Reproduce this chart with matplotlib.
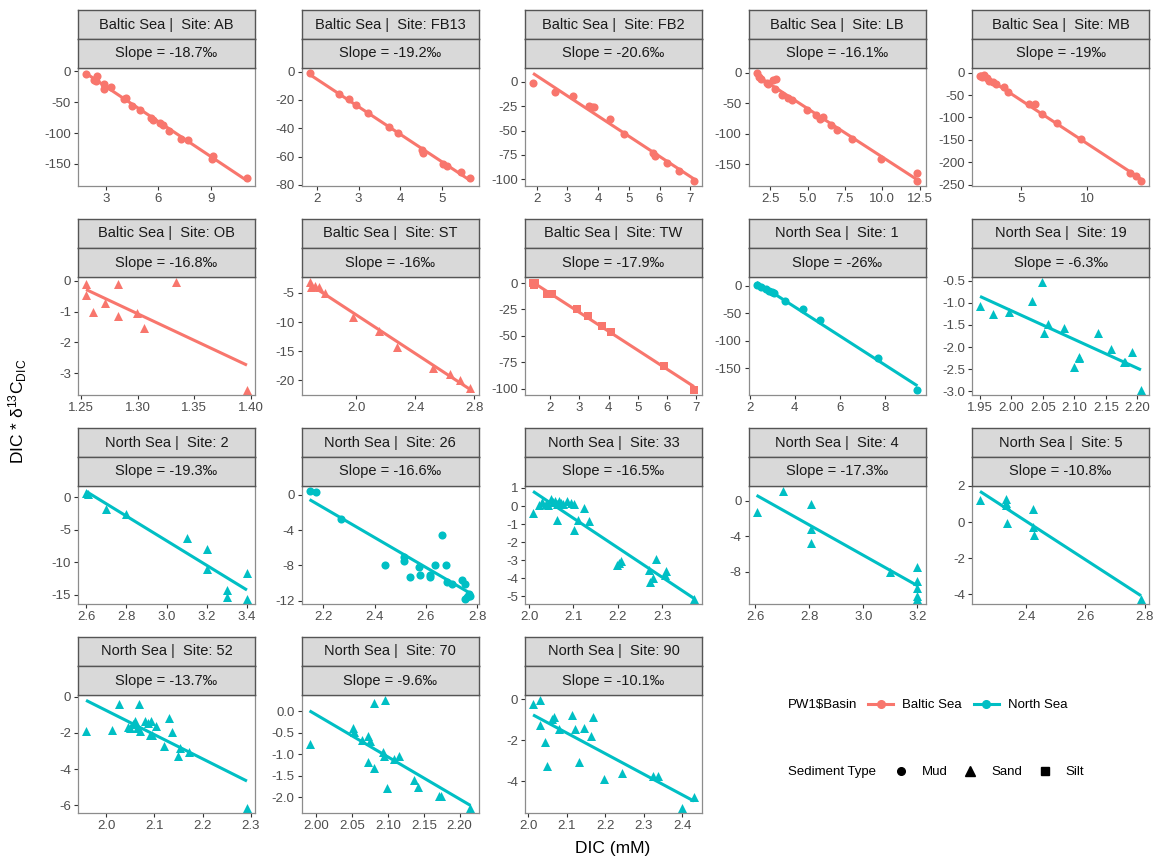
import numpy as np
import matplotlib
matplotlib.use("Agg")
from matplotlib import pyplot as plt
from matplotlib.lines import Line2D

plt.rcParams['font.family'] = ['Liberation Sans', 'DejaVu Sans']
plt.rcParams['axes.unicode_minus'] = False
plt.rcParams['mathtext.fontset'] = 'custom'
plt.rcParams['mathtext.rm'] = 'Liberation Sans'
plt.rcParams['mathtext.it'] = 'Liberation Sans:italic'

# data (DIC in mM, DIC * d13C)
ab_dic = [1.85, 2.33, 2.46, 2.42, 2.88, 2.90, 3.27, 4.04, 4.15, 4.48, 4.96, 5.60, 5.70, 6.10, 6.27, 6.60, 7.27, 7.71, 9.06, 9.15, 11.08]
ab_val = [-3.8, -13.4, -8.0, -16.0, -20.0, -28.0, -26.0, -45.0, -43.0, -56.0, -62.0, -76.0, -79.0, -83.0, -87.0, -97.0, -109.0, -111.0, -142.0, -138.0, -173.0]
fb13_dic = [1.82, 2.53, 2.77, 2.93, 3.23, 3.73, 3.94, 4.52, 4.54, 5.03, 5.13, 5.47, 5.69]
fb13_val = [-1.2, -16.0, -19.5, -23.5, -29.0, -38.8, -43.0, -55.3, -57.6, -65.0, -66.6, -70.6, -75.3]
fb2_dic = [1.88, 2.60, 3.18, 3.71, 3.79, 3.85, 4.40, 4.84, 5.78, 5.85, 6.24, 6.64, 7.12]
fb2_val = [-1.5, -10.0, -14.4, -24.4, -26.0, -25.4, -38.5, -53.8, -72.9, -76.3, -83.0, -91.6, -101.3]
lb_dic = [1.58, 1.73, 1.91, 2.26, 2.35, 2.68, 2.86, 2.80, 3.30, 3.66, 3.98, 4.93, 5.53, 5.82, 6.06, 6.57, 6.95, 7.99, 9.92, 12.35, 12.35]
lb_val = [-1.0, -7.0, -10.7, -16.0, -18.8, -12.3, -10.7, -26.8, -36.4, -41.3, -44.5, -60.6, -69.7, -76.6, -72.3, -85.7, -93.8, -108.8, -141.0, -164.5, -176.8]
mb_dic = [1.90, 2.07, 2.23, 2.40, 2.57, 2.90, 3.13, 3.73, 4.00, 5.57, 6.07, 6.57, 7.73, 9.57, 13.23, 13.73, 14.07]
mb_val = [-7.3, -9.5, -5.1, -12.4, -18.3, -21.9, -25.6, -31.4, -43.9, -70.9, -70.9, -91.4, -113.3, -148.4, -224.4, -230.3, -241.2]
ob_dic = [1.2544, 1.2544, 1.2603, 1.2715, 1.2826, 1.2826, 1.2994, 1.3053, 1.3341, 1.3965]
ob_val = [-0.11, -0.46, -1.03, -0.71, -0.09, -1.13, -1.05, -1.53, -0.05, -3.54]
st_dic = [1.684, 1.693, 1.722, 1.751, 1.789, 1.982, 2.156, 2.278, 2.522, 2.633, 2.707, 2.775]
st_val = [-3.2, -4.0, -3.76, -3.99, -5.1, -9.2, -11.6, -14.3, -17.8, -18.9, -19.9, -21.3]
tw_dic = [1.42, 1.50, 1.46, 1.88, 2.08, 2.91, 3.29, 3.79, 4.08, 5.91, 6.92]
tw_val = [0.0, 0.0, -1.9, -10.4, -10.7, -24.5, -31.4, -40.9, -45.9, -78.6, -100.9]
s1_dic = [2.31, 2.51, 2.71, 2.84, 2.98, 3.10, 3.57, 4.37, 5.10, 7.65, 9.41]
s1_val = [1.2, -3.0, -6.0, -9.0, -12.0, -13.2, -27.6, -42.0, -61.8, -132.0, -189.0]
s19_dic = [1.950, 1.971, 1.996, 2.032, 2.049, 2.058, 2.052, 2.084, 2.100, 2.107, 2.108, 2.137, 2.159, 2.179, 2.181, 2.192, 2.206]
s19_val = [-1.08, -1.25, -1.21, -0.96, -0.54, -1.49, -1.69, -1.56, -2.46, -2.22, -2.25, -1.69, -2.05, -2.33, -2.33, -2.10, -2.96]
s2_dic = [2.60, 2.61, 2.70, 2.80, 3.10, 3.20, 3.20, 3.30, 3.30, 3.40, 3.40]
s2_val = [0.72, 0.6, -1.7, -2.5, -6.2, -8.0, -11.0, -14.3, -15.3, -11.6, -15.6]
s26_dic = [2.146, 2.170, 2.267, 2.439, 2.516, 2.516, 2.539, 2.572, 2.578, 2.617, 2.617, 2.636, 2.662, 2.680, 2.684, 2.703, 2.742, 2.751, 2.751, 2.770, 2.774, 2.760]
s26_val = [0.37, 0.26, -2.72, -7.9, -7.0, -7.5, -9.25, -8.2, -9.03, -9.03, -9.25, -7.95, -4.55, -7.98, -9.9, -10.07, -9.7, -10.15, -11.75, -11.2, -11.5, -11.6]
s33_dic = [2.009, 2.022, 2.030, 2.039, 2.043, 2.050, 2.054, 2.059, 2.064, 2.068, 2.071, 2.077, 2.086, 2.094, 2.101, 2.062, 2.111, 2.124, 2.135, 2.101, 2.197, 2.202, 2.207, 2.270, 2.272, 2.278, 2.285, 2.308, 2.305, 2.371]
s33_val = [-0.38, 0.04, 0.22, 0.13, 0.07, 0.40, 0.22, 0.26, 0.13, 0.26, 0.18, 0.13, 0.26, 0.18, 0.13, -0.75, -0.75, -0.09, -0.84, -1.33, -3.27, -3.14, -3.05, -3.55, -4.2, -3.98, -2.94, -3.57, -3.82, -5.12]
s4_dic = [2.605, 2.704, 2.806, 2.806, 2.806, 3.098, 3.2, 3.2, 3.2, 3.2, 3.2]
s4_val = [-1.29, 1.03, -0.37, -3.14, -4.8, -8.04, -7.45, -9.04, -9.78, -10.7, -11.0]
s5_dic = [2.245, 2.331, 2.334, 2.334, 2.337, 2.424, 2.424, 2.427, 2.787]
s5_val = [1.21, 1.3, 1.08, 0.93, -0.04, 0.74, -0.28, -0.71, -4.24]
s52_dic = [1.958, 2.012, 2.027, 2.045, 2.050, 2.055, 2.060, 2.067, 2.063, 2.070, 2.081, 2.086, 2.090, 2.093, 2.094, 2.103, 2.119, 2.131, 2.136, 2.148, 2.152, 2.172, 2.292]
s52_val = [-1.9, -1.84, -0.42, -1.66, -1.71, -1.53, -1.34, -0.42, -1.75, -1.9, -1.34, -1.47, -2.12, -1.34, -2.12, -1.62, -2.73, -1.16, -1.93, -3.26, -2.82, -3.04, -6.13]
s70_dic = [1.991, 2.051, 2.053, 2.064, 2.073, 2.075, 2.072, 2.081, 2.081, 2.096, 2.093, 2.095, 2.099, 2.109, 2.115, 2.137, 2.142, 2.171, 2.174, 2.215]
s70_val = [-0.76, -0.38, -0.48, -0.66, -0.57, -0.69, -1.18, 0.19, -1.32, 0.25, -0.95, -1.05, -1.78, -1.11, -1.05, -1.6, -1.76, -1.98, -1.98, -2.24]
s90_dic = [2.013, 2.032, 2.032, 2.044, 2.049, 2.063, 2.067, 2.080, 2.113, 2.123, 2.132, 2.145, 2.164, 2.168, 2.196, 2.244, 2.325, 2.337, 2.400, 2.430]
s90_val = [-0.22, -0.06, -1.28, -2.11, -3.23, -0.96, -0.88, -1.47, -0.75, -1.44, -3.07, -1.39, -1.79, -0.88, -3.87, -3.58, -3.74, -3.74, -5.28, -4.75]

basins = ['Baltic Sea'] * 8 + ['North Sea'] * 10
sites = ['AB', 'FB13', 'FB2', 'LB', 'MB', 'OB', 'ST', 'TW',
         '1', '19', '2', '26', '33', '4', '5', '52', '70', '90']
sediment = ['Mud', 'Mud', 'Mud', 'Mud', 'Mud', 'Sand', 'Sand', 'Silt',
            'Mud', 'Sand', 'Sand', 'Mud', 'Sand', 'Sand', 'Sand', 'Sand', 'Sand', 'Sand']
slopes = ['-18.7', '-19.2', '-20.6', '-16.1', '-19', '-16.8', '-16', '-17.9',
          '-26', '-6.3', '-19.3', '-16.6', '-16.5', '-17.3', '-10.8', '-13.7', '-9.6', '-10.1']
dics = [ab_dic, fb13_dic, fb2_dic, lb_dic, mb_dic, ob_dic, st_dic, tw_dic,
        s1_dic, s19_dic, s2_dic, s26_dic, s33_dic, s4_dic, s5_dic, s52_dic, s70_dic, s90_dic]
vals = [ab_val, fb13_val, fb2_val, lb_val, mb_val, ob_val, st_val, tw_val,
        s1_val, s19_val, s2_val, s26_val, s33_val, s4_val, s5_val, s52_val, s70_val, s90_val]
xticks = [[3, 6, 9], [2, 3, 4, 5], [2, 3, 4, 5, 6, 7], [2.5, 5.0, 7.5, 10.0, 12.5], [5, 10],
          [1.25, 1.30, 1.35, 1.40], [2.0, 2.4, 2.8], [2, 3, 4, 5, 6, 7], [2, 4, 6, 8],
          [1.95, 2.00, 2.05, 2.10, 2.15, 2.20], [2.6, 2.8, 3.0, 3.2, 3.4], [2.2, 2.4, 2.6, 2.8],
          [2.0, 2.1, 2.2, 2.3], [2.6, 2.8, 3.0, 3.2], [2.4, 2.6, 2.8], [2.0, 2.1, 2.2, 2.3],
          [2.00, 2.05, 2.10, 2.15, 2.20], [2.0, 2.1, 2.2, 2.3, 2.4]]
yticks = [[0, -50, -100, -150], [0, -20, -40, -60, -80], [0, -25, -50, -75, -100],
          [0, -50, -100, -150], [0, -50, -100, -150, -200, -250], [0, -1, -2, -3],
          [-5, -10, -15, -20], [0, -25, -50, -75, -100], [0, -50, -100, -150],
          [-0.5, -1.0, -1.5, -2.0, -2.5, -3.0], [0, -5, -10, -15], [0, -4, -8, -12],
          [1, 0, -1, -2, -3, -4, -5], [0, -4, -8], [2, 0, -2, -4], [0, -2, -4, -6],
          [0.0, -0.5, -1.0, -1.5, -2.0], [0, -2, -4]]

colors = {'Baltic Sea': '#F8766D', 'North Sea': '#00BFC4'}
shapes = {'Mud': 'o', 'Sand': '^', 'Silt': 's'}
sizes = {'Mud': 34, 'Sand': 42, 'Silt': 34}


def fmt(ticks):
    d = 0
    for t in ticks:
        for k in range(3):
            if abs(round(t, k) - t) < 1e-9:
                d = max(d, k)
                break
    return [f"{t:.{d}f}" for t in ticks]


W, H = 1157, 858
fig = plt.figure(figsize=(W / 100, H / 100), dpi=100)

col_left, col_step, pw = 78, 223.5, 177
row_top, row_step, ph, sh = 68, 209, 118, 29

for i in range(len(sites)):
    r, c = divmod(i, 5)
    x0 = col_left + c * col_step
    y0 = row_top + r * row_step
    col = colors[basins[i]]

    ax = fig.add_axes([x0 / W, 1 - (y0 + ph) / H, pw / W, ph / H])
    x = np.array(dics[i])
    y = np.array(vals[i])
    ax.scatter(x, y, marker=shapes[sediment[i]], s=sizes[sediment[i]], color=col,
               linewidths=0, zorder=2)
    b, a = np.polyfit(x, y, 1)
    xs = np.array([x.min(), x.max()])
    ax.plot(xs, a + b * xs, color=col, lw=2.2, zorder=3, solid_capstyle='butt')
    ax.margins(0.05)
    ax.set_xticks(xticks[i])
    ax.set_xticklabels(fmt(xticks[i]))
    ax.set_yticks(yticks[i])
    ax.set_yticklabels(fmt(yticks[i]))
    ax.tick_params(length=3, width=0.8, color='#333333', labelsize=9.5,
                   labelcolor='#4D4D4D', pad=2)
    for s in ax.spines.values():
        s.set_color('#8C8C8C')
        s.set_linewidth(0.9)

    strip_txt = [basins[i] + ' |  Site: ' + sites[i], 'Slope = ' + slopes[i] + '\u2030']
    for k in range(2):
        top_px = y0 - sh * (2 - k)
        sax = fig.add_axes([x0 / W, 1 - (top_px + sh) / H, pw / W, sh / H])
        sax.set_facecolor('#D9D9D9')
        sax.set_xticks([])
        sax.set_yticks([])
        for s in sax.spines.values():
            s.set_color('#555555')
            s.set_linewidth(1.0)
        sax.text(0.5, 0.5, strip_txt[k], ha='center', va='center', fontsize=10.5,
                 color='#1A1A1A', transform=sax.transAxes)

fig.text(18 / W, 1 - 411 / H, r'DIC * $\mathregular{\delta^{13}C_{DIC}}$', rotation=90,
         ha='center', va='center', fontsize=12.5)
fig.text(613 / W, 1 - 848 / H, 'DIC (mM)', ha='center', va='center', fontsize=12.5)

# legends
fig.text(788 / W, 1 - 705 / H, r'PW1\$Basin', ha='left', va='center', fontsize=9.5)
basin_handles = [Line2D([0], [0], color=colors[b], lw=2.2, marker='o', ms=5.5)
                 for b in ['Baltic Sea', 'North Sea']]
fig.legend(basin_handles, ['Baltic Sea', 'North Sea'], ncol=2, frameon=False,
           loc='center left', bbox_to_anchor=(868 / W, 1 - 705 / H), fontsize=9.5,
           handlelength=1.9, handletextpad=0.7, columnspacing=0.9,
           borderpad=0, borderaxespad=0)

fig.text(788 / W, 1 - 772 / H, 'Sediment Type', ha='left', va='center', fontsize=9.5)
sed_handles = [Line2D([0], [0], ls='none', marker=shapes[k], color='black',
                      ms=6.5 if k == 'Sand' else 5.5) for k in ['Mud', 'Sand', 'Silt']]
fig.legend(sed_handles, ['Mud', 'Sand', 'Silt'], ncol=3, frameon=False,
           loc='center left', bbox_to_anchor=(893 / W, 1 - 772 / H), fontsize=9.5,
           handlelength=1.2, handletextpad=1.0, columnspacing=1.1,
           borderpad=0, borderaxespad=0)

fig.savefig('out.png', dpi=100)
